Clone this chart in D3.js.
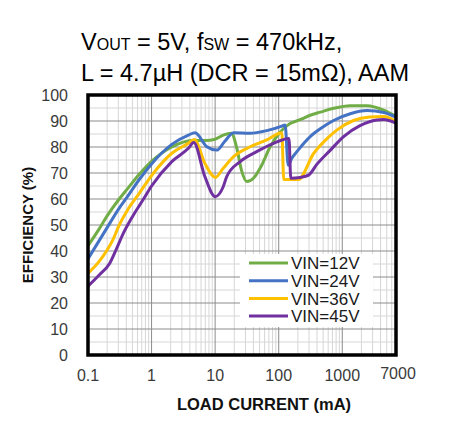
<!DOCTYPE html>
<html lang="en">
<head>
<meta charset="utf-8">
<title>Efficiency vs load current</title>
<script src="https://cdn.jsdelivr.net/npm/d3@7"></script>
<style>
  body { margin: 0; background: #fff; }
  svg { display: block; font-family: "Liberation Sans", Arial, sans-serif; }
</style>
</head>
<body>
<svg id="chart" width="456" height="434"></svg>
<script>
// load current (mA) and efficiency (%), one pair per VIN
var cur12 = [0.1, 0.15, 0.2, 0.31, 0.42, 0.64, 1, 2.08, 4.3, 6.9, 10, 13.4, 18, 21.7, 26, 31.5, 40, 54, 73, 105, 151, 217, 313, 450, 730, 1335, 2450, 4480, 7000];
var eff12 = [42, 48.5, 53.5, 60, 64, 69.5, 74.5, 80, 82.5, 82.5, 83, 84.6, 85.3, 80, 71, 66.7, 68, 73, 80, 85.7, 89, 90.5, 92.2, 93.4, 94.9, 95.9, 95.9, 94.2, 91.8];

var cur24 = [0.1, 0.15, 0.2, 0.31, 0.42, 0.64, 1, 2.08, 3.8, 4.84, 7.4, 10.6, 14, 19.5, 35, 65, 112, 126, 141, 160, 193, 313, 450, 730, 1335, 2450, 4480, 7000];
var eff24 = [37, 44, 49, 56.5, 61, 67.5, 73.5, 81, 84.6, 85.5, 80.1, 78.8, 82, 85.5, 85.3, 86.3, 88, 88.5, 73, 75.6, 78.2, 84, 87, 90.2, 92.8, 94, 93.3, 91.5];

var cur36 = [0.1, 0.15, 0.2, 0.245, 0.31, 0.42, 0.64, 1, 2.08, 3.8, 4.7, 6.9, 10.1, 13.4, 19.5, 35.5, 65, 112, 120, 170, 204, 354, 580, 820, 1500, 2700, 4480, 7000];
var eff36 = [31.4, 36, 40.4, 44.2, 50, 55.8, 62.2, 69, 77.6, 81.4, 82.9, 73.7, 68.3, 71.8, 76.3, 80.1, 82.7, 85.5, 67.5, 67.5, 67.5, 77.5, 83.3, 86.5, 90.2, 91.5, 91.7, 89.7];

var cur45 = [0.1, 0.15, 0.22, 0.276, 0.35, 0.5, 0.73, 1, 2.08, 3.8, 4.6, 6.9, 10, 13.4, 15.2, 24.8, 45, 83, 145, 155, 217, 296, 400, 650, 1050, 1900, 3500, 4480, 7000];
var eff45 = [26.5, 30.8, 35.3, 40.4, 46.2, 53.2, 59.6, 65, 74.4, 79.5, 81.7, 68.6, 60.9, 64.7, 68.6, 74.4, 78.2, 81.4, 83.3, 68, 68.3, 69.2, 73.4, 78.8, 84, 88.2, 90.4, 90.6, 89.2];

var seriesNames = ['VIN=12V', 'VIN=24V', 'VIN=36V', 'VIN=45V'];
var seriesColors = ['#70AD47', '#4472C4', '#FFC000', '#7030A0'];
var xTicks = [0.1, 1, 10, 100, 1000, 7000];
var yTicks = [0, 10, 20, 30, 40, 50, 60, 70, 80, 90, 100];

var curList = [cur12, cur24, cur36, cur45];
var effList = [eff12, eff24, eff36, eff45];

var plotL = 88, plotR = 396, plotT = 95, plotB = 355;

var x = d3.scaleLog().domain([0.1, 7000]).range([plotL, plotR]);
var y = d3.scaleLinear().domain([0, 100]).range([plotB, plotT]);

var svg = d3.select('#chart');

// title
var title = svg.append('text').attr('x', 81).attr('y', 50)
    .attr('font-size', 23.5).attr('fill', '#000');
title.append('tspan').text('V');
title.append('tspan').attr('font-size', 16).text('OUT');
title.append('tspan').text(' = 5V, f');
title.append('tspan').attr('font-size', 16).text('SW');
title.append('tspan').text(' = 470kHz,');
svg.append('text').attr('x', 81).attr('y', 81)
    .attr('font-size', 23.5).attr('fill', '#000')
    .text('L = 4.7\u00B5H (DCR = 15m\u03A9), AAM');

// grid
var grid = svg.append('g');
var minorX = [];
for (var p = -1; p <= 3; p++) {
    for (var k = 2; k <= 9; k++) {
        var v = k * Math.pow(10, p);
        if (v < 7000) minorX.push(v);
    }
}
grid.selectAll('.vminor').data(minorX).enter().append('line')
    .attr('x1', function(d) { return x(d); }).attr('x2', function(d) { return x(d); })
    .attr('y1', plotT).attr('y2', plotB)
    .attr('stroke', '#d6d6d6').attr('stroke-width', 1);
var minorY = d3.range(5, 100, 10);
grid.selectAll('.hminor').data(minorY).enter().append('line')
    .attr('x1', plotL).attr('x2', plotR)
    .attr('y1', function(d) { return y(d); }).attr('y2', function(d) { return y(d); })
    .attr('stroke', '#d6d6d6').attr('stroke-width', 1);
grid.selectAll('.vmajor').data([1, 10, 100, 1000]).enter().append('line')
    .attr('x1', function(d) { return x(d); }).attr('x2', function(d) { return x(d); })
    .attr('y1', plotT).attr('y2', plotB)
    .attr('stroke', '#8c8c8c').attr('stroke-width', 1);
grid.selectAll('.hmajor').data(yTicks.slice(1, -1)).enter().append('line')
    .attr('x1', plotL).attr('x2', plotR)
    .attr('y1', function(d) { return y(d); }).attr('y2', function(d) { return y(d); })
    .attr('stroke', '#8c8c8c').attr('stroke-width', 1);

// curves
var line = d3.line()
    .x(function(d) { return x(d[0]); })
    .y(function(d) { return y(d[1]); })
    .curve(d3.curveMonotoneX);

for (var s = 0; s < 4; s++) {
    var pts = curList[s].map(function(c, i) { return [c, effList[s][i]]; });
    svg.append('path').datum(pts)
        .attr('d', line)
        .attr('fill', 'none')
        .attr('stroke', seriesColors[s])
        .attr('stroke-width', 3)
        .attr('stroke-linejoin', 'round');
}

// frame
svg.append('rect').attr('x', plotL).attr('y', plotT)
    .attr('width', plotR - plotL).attr('height', plotB - plotT)
    .attr('fill', 'none').attr('stroke', '#000').attr('stroke-width', 3.5);

// legend
var lg = svg.append('g');
lg.append('rect').attr('x', 240).attr('y', 254).attr('width', 133).attr('height', 73).attr('fill', '#fff');
seriesNames.forEach(function(name, i) {
    var ly = 263 + i * 17.7;
    lg.append('line').attr('x1', 249).attr('x2', 288).attr('y1', ly).attr('y2', ly)
        .attr('stroke', seriesColors[i]).attr('stroke-width', 3);
    lg.append('text').attr('x', 291).attr('y', ly).attr('dy', '0.36em')
        .attr('font-size', 17).attr('fill', '#1a1a1a').text(name);
});

// axes tick labels
svg.selectAll('.yt').data(yTicks).enter().append('text')
    .attr('x', 68).attr('y', function(d) { return y(d); }).attr('dy', '0.36em')
    .attr('text-anchor', 'end').attr('font-size', 16).attr('fill', '#3a3a3a')
    .text(function(d) { return d; });
svg.selectAll('.xt').data(xTicks).enter().append('text')
    .attr('x', function(d) { return d === 7000 ? x(d) + 2 : x(d); })
    .attr('y', function(d) { return d === 7000 ? 379 : 381; })
    .attr('text-anchor', 'middle').attr('font-size', 16).attr('fill', '#3a3a3a')
    .text(function(d) { return d; });

// axis titles
svg.append('text').attr('x', 264).attr('y', 410)
    .attr('text-anchor', 'middle').attr('font-size', 16.5).attr('font-weight', 'bold')
    .attr('fill', '#111').text('LOAD CURRENT (mA)');
svg.append('text').attr('transform', 'translate(33,225) rotate(-90)')
    .attr('text-anchor', 'middle').attr('font-size', 15).attr('font-weight', 'bold')
    .attr('fill', '#111').text('EFFICIENCY (%)');
</script>
</body>
</html>
